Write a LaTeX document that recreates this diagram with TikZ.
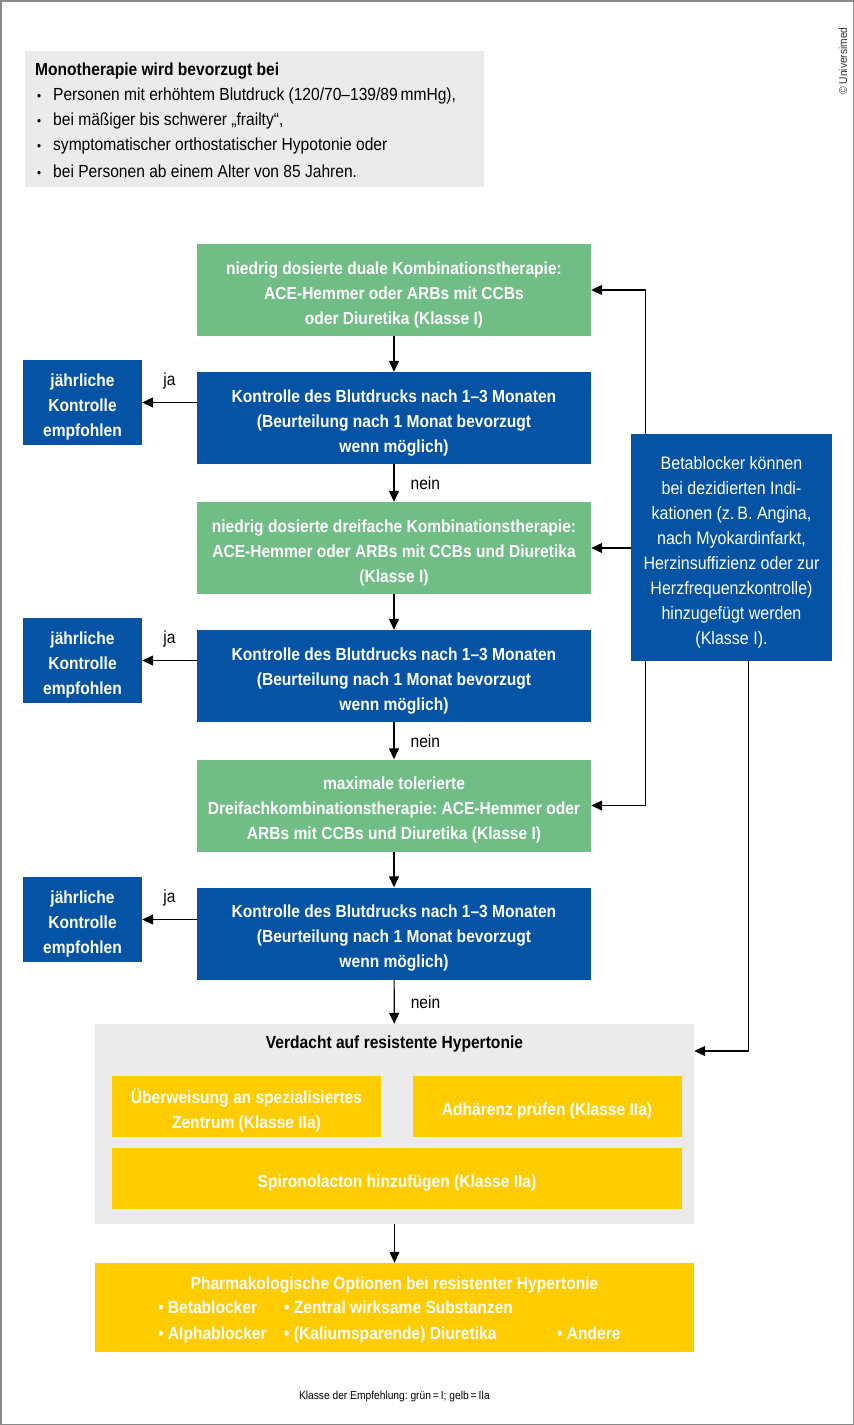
\documentclass[tikz,border=0pt]{standalone}
\usepackage{fontspec}
\setmainfont[FakeStretch=0.89]{Liberation Sans}
\usetikzlibrary{arrows.meta,calc}
\frenchspacing
\definecolor{cgreen}{HTML}{70BD86}
\definecolor{cblue}{HTML}{0553A5}
\definecolor{cyellow}{HTML}{FFCC00}
\definecolor{cgray}{HTML}{EBEBEB}
\definecolor{cframe}{HTML}{8A8A8A}
\newcommand{\bul}{\makebox[16pt][l]{\fontsize{13}{13}\selectfont •}}
\newcommand{\fs}{\rule{0pt}{24pt}}
\tikzset{
  base/.style={rectangle, inner sep=0pt, align=center, text=white, font=\fontsize{17.5}{25}\selectfont\bfseries,
    execute at end node={\rule[-6pt]{0pt}{6pt}}},
  gbox/.style={base, fill=cgreen, minimum width=394, minimum height=92},
  bbox/.style={base, fill=cblue, minimum width=394, minimum height=92},
  lbox/.style={base, fill=cblue, minimum width=119, minimum height=85},
  rbox/.style={base, fill=cblue, minimum width=201, minimum height=227, font=\fontsize{18}{25}\selectfont},
  ybox/.style={base, fill=cyellow, minimum width=269, minimum height=61},
  lbl/.style={font=\fontsize{17.5}{18}\selectfont, text=black, inner sep=1pt},
  arr/.style={line width=1.2pt, -{Triangle[length=11pt,width=10pt]}},
  txt/.style={font=\fontsize{17.5}{18}\selectfont, anchor=west, inner sep=0pt},
}
\begin{document}
\begin{tikzpicture}[x=1pt,y=-1pt]
\useasboundingbox (0,0) rectangle (854,1425);
\draw[cframe, line width=1.5pt] (0.75,0.75) rectangle (853.25,1424.25);
% top info box
\node[fill=cgray, minimum width=459, minimum height=136, inner sep=0pt] (info) at (254.5,119) {};
\node[txt, font=\fontsize{17.5}{18}\selectfont\bfseries] (infot) at (35,71) {Monotherapie wird bevorzugt bei};
\node[txt] (i1) at (37,96) {\bul Personen mit erhöhtem Blutdruck (120/70–139/89\,mmHg),};
\node[txt] (i2) at (37,121) {\bul bei mäßiger bis schwerer „frailty“,};
\node[txt] (i3) at (37,146) {\bul symptomatischer orthostatischer Hypotonie oder};
\node[txt] (i4) at (37,171) {\bul bei Personen ab einem Alter von 85 Jahren.};
\node[rotate=90, font=\fontsize{11.5}{12}\selectfont, text=black!80, inner sep=0pt] (copy) at (843,61) {© Universimed};
% main column
\node[gbox] (g1) at (394,290) {\fs niedrig dosierte duale Kombinationstherapie:\\ACE-Hemmer oder ARBs mit CCBs\\oder Diuretika (Klasse I)};
\node[bbox] (b1) at (394,418) {\fs Kontrolle des Blutdrucks nach 1–3 Monaten\\(Beurteilung nach 1 Monat bevorzugt\\wenn möglich)};
\node[gbox] (g2) at (394,548) {\fs niedrig dosierte dreifache Kombinationstherapie:\\ACE-Hemmer oder ARBs mit CCBs und Diuretika\\(Klasse I)};
\node[bbox] (b2) at (394,676) {\fs Kontrolle des Blutdrucks nach 1–3 Monaten\\(Beurteilung nach 1 Monat bevorzugt\\wenn möglich)};
\node[gbox] (g3) at (394,805.5) {\fs maximale tolerierte\\Dreifachkombinationstherapie: ACE-Hemmer oder\\ARBs mit CCBs und Diuretika (Klasse I)};
\node[bbox] (b3) at (394,933.5) {\fs Kontrolle des Blutdrucks nach 1–3 Monaten\\(Beurteilung nach 1 Monat bevorzugt\\wenn möglich)};
% left boxes
\node[lbox] (l1) at (82.5,402.5) {\fs jährliche\\Kontrolle\\empfohlen};
\node[lbox] (l2) at (82.5,660.5) {\fs jährliche\\Kontrolle\\empfohlen};
\node[lbox] (l3) at (82.5,919.5) {\fs jährliche\\Kontrolle\\empfohlen};
% right box
\node[rbox] (rb) at (731.5,547.5) {\fs Betablocker können\\bei dezidierten Indi-\\kationen (z.\,B. Angina,\\nach Myokardinfarkt,\\Herzinsuffizienz oder zur\\Herzfrequenzkontrolle)\\hinzugefügt werden\\(Klasse I).};
% resistant box
\node[fill=cgray, minimum width=599, minimum height=200, inner sep=0pt] (res) at (394.5,1124) {};
\node[lbl, font=\fontsize{17.5}{18}\selectfont\bfseries] (rest) at (394.5,1044) {Verdacht auf resistente Hypertonie};
\node[ybox] (y1) at (246.5,1106.5) {\fs Überweisung an spezialisiertes\\Zentrum (Klasse IIa)};
\node[ybox] (y2) at (547,1106.5) {\fs Adhärenz prüfen (Klasse IIa)};
\node[ybox, minimum width=570] (y3) at (397,1178.5) {\fs Spironolacton hinzufügen (Klasse IIa)};
% final box
\node[base, fill=cyellow, minimum width=599, minimum height=89] (fin) at (394.5,1307.5) {};
\node[base, anchor=base] (fint) at (394.5,1289) {Pharmakologische Optionen bei resistenter Hypertonie};
\node[base, anchor=base west] (f1) at (158,1313) {• Betablocker};
\node[base, anchor=base west] (f2) at (284,1313) {• Zentral wirksame Substanzen};
\node[base, anchor=base west] (f3) at (158,1339) {• Alphablocker};
\node[base, anchor=base west] (f4) at (284,1339) {• (Kaliumsparende) Diuretika};
\node[base, anchor=base west] (f5) at (557,1339) {• Andere};
\node[lbl, font=\fontsize{11.5}{12}\selectfont] (foot) at (394.5,1397) {Klasse der Empfehlung: grün\,=\,I; gelb\,=\,IIa};
% connectors
\draw[arr] (g1) -- (b1);
\draw[arr] (b1) -- node[lbl, right, xshift=15pt]{nein} (g2);
\draw[arr] (g2) -- (b2);
\draw[arr] (b2) -- node[lbl, right, xshift=15pt]{nein} (g3);
\draw[arr] (g3) -- (b3);
\draw[arr] (b3) -- node[lbl, right, xshift=15pt]{nein} (res);
\draw[arr] (res) -- (fin);
\draw[arr] (b1.west |- l1.east) -- node[lbl, above, yshift=12pt]{ja} (l1.east);
\draw[arr] (b2.west |- l2.east) -- node[lbl, above, yshift=12pt]{ja} (l2.east);
\draw[arr] (b3.west |- l3.east) -- node[lbl, above, yshift=12pt]{ja} (l3.east);
\coordinate (rtop) at ($(rb.north west)+(15,0)$);
\coordinate (rbot) at ($(rb.south west)+(15,0)$);
\coordinate (rbot2) at ($(rb.south west)+(118,0)$);
\draw[arr] (rtop) |- (g1.east);
\draw[arr] (rb.west |- g2.east) -- (g2.east);
\draw[arr] (rbot) |- (g3.east);
\draw[arr] (rbot2) |- ($(res.east)+(0,-73)$);
\end{tikzpicture}
\end{document}
